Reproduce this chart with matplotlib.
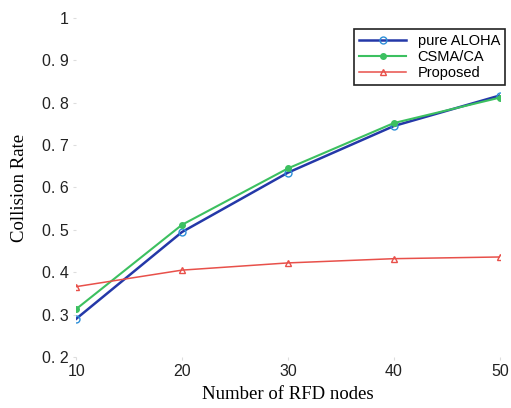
import matplotlib.pyplot as plt

# Data
nodes = [10, 20, 30, 40, 50]
pure_aloha = [0.29, 0.495, 0.635, 0.745, 0.817]
csma_ca = [0.313, 0.512, 0.645, 0.752, 0.812]
proposed = [0.366, 0.405, 0.422, 0.432, 0.436]

y_ticks = [0.2, 0.3, 0.4, 0.5, 0.6, 0.7, 0.8, 0.9, 1.0]
y_tick_labels = ['0. 2', '0. 3', '0. 4', '0. 5', '0. 6', '0. 7', '0. 8', '0. 9', '1']
x_ticks = [10, 20, 30, 40, 50]

fig = plt.figure(figsize=(5.11, 4.08), dpi=100)
ax = fig.add_axes([0.149, 0.125, 0.829, 0.831])

ax.plot(nodes, pure_aloha, color='#2438a8', marker='o', markersize=5,
        markerfacecolor='none', markeredgecolor='#2c8fd8', linewidth=1.8, label='pure ALOHA')
ax.plot(nodes, csma_ca, color='#3cc060', marker='o', markersize=4,
        linewidth=1.5, label='CSMA/CA')
ax.plot(nodes, proposed, color='#e8504a', marker='^', markersize=4,
        markerfacecolor='none', linewidth=1.1, label='Proposed')

ax.set_xlim(10, 50)
ax.set_ylim(0.2, 1.0)
ax.set_xticks(x_ticks)
ax.set_yticks(y_ticks)
ax.set_yticklabels(y_tick_labels)
for s in ax.spines.values():
    s.set_visible(False)
ax.tick_params(length=2, color='#dddddd', labelsize=11.5, labelcolor='#222222')
ax.tick_params(axis='x', pad=3)
for lbl in ax.get_xticklabels() + ax.get_yticklabels():
    lbl.set_family('Liberation Sans')

ax.set_xlabel('Number of RFD nodes', family='Liberation Serif', fontsize=13.5, labelpad=5)
ax.set_ylabel('Collision Rate', family='Liberation Serif', fontsize=13.5, labelpad=10)

leg = ax.legend(loc='upper right', bbox_to_anchor=(1.03, 0.99), fontsize=10.5,
                fancybox=False, framealpha=1, edgecolor='#222222',
                handlelength=3.2, borderpad=0.35, labelspacing=0.15,
                prop={'family': 'Liberation Sans', 'size': 10.5})
leg.get_frame().set_linewidth(1.2)

fig.savefig('out.png', dpi=100)
